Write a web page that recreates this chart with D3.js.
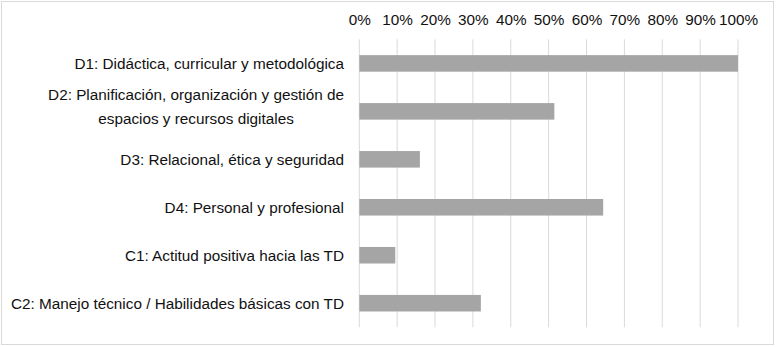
<!DOCTYPE html>
<html><head><meta charset="utf-8">
<script src="https://cdn.jsdelivr.net/npm/d3@7"></script>
<style>body{margin:0;background:#fff}svg{display:block}</style>
</head><body>
<svg id="c" width="778" height="347"></svg>
<script>
const categories = [
  ["D1: Didáctica, curricular y metodológica"],
  ["D2: Planificación, organización y gestión de", "espacios y recursos digitales"],
  ["D3: Relacional, ética y seguridad"],
  ["D4: Personal y profesional"],
  ["C1: Actitud positiva hacia las TD"],
  ["C2: Manejo técnico / Habilidades básicas con TD"]
];
const values = [100, 51.5, 16, 64.4, 9.5, 32.1];
const tickValues = [0,10,20,30,40,50,60,70,80,90,100];

(function(){
const svg = d3.select("#c");
const FONT = "'Liberation Sans', Arial, sans-serif";
const FS = 15.3;
svg.append("rect").attr("x",1.5).attr("y",1.5).attr("width",772).attr("height",343)
  .attr("fill","#fff").attr("stroke","#d9d9d9").attr("stroke-width",1);

const pLeft = 359.3, pRight = 738, pTop = 39.3, pBottom = 327.3;
const x = d3.scaleLinear().domain([0,100]).range([pLeft,pRight]);
const y = d3.scaleBand().domain(d3.range(categories.length)).range([pTop,pBottom]).paddingInner(0.655).paddingOuter(0.33);

svg.append("g").selectAll("line").data(tickValues).join("line")
  .attr("x1",d=>x(d)).attr("x2",d=>x(d)).attr("y1",pTop).attr("y2",pBottom)
  .attr("stroke","#d9d9d9").attr("stroke-width",1);

const ax = svg.append("g").attr("transform",`translate(0,20)`)
  .call(d3.axisTop(x).tickValues(tickValues).tickFormat(d=>d+"%").tickSize(0).tickPadding(0));
ax.select(".domain").remove();
ax.selectAll("text").attr("font-family",FONT).attr("font-size",FS).attr("fill","#111")
  .attr("dy","0.35em").attr("y",0);

svg.append("g").selectAll("rect").data(values).join("rect")
  .attr("x",x(0)).attr("y",(d,i)=>y(i)).attr("width",d=>x(d)-x(0)).attr("height",y.bandwidth())
  .attr("fill","#a5a5a5");

const lg = svg.append("g");
categories.forEach((lines,i)=>{
  const cy = y(i)+y.bandwidth()/2;
  const t = lg.append("text").attr("font-family",FONT).attr("font-size",FS).attr("fill","#111");
  if(lines.length===1){
    t.attr("x",344).attr("y",cy).attr("dy","0.35em").attr("text-anchor","end").text(lines[0]);
  } else {
    const tmp = lg.append("text").attr("font-family",FONT).attr("font-size",FS).text(lines[0]);
    const w = tmp.node().getComputedTextLength(); tmp.remove();
    const cx = 344 - w/2;
    lines.forEach((s,k)=>{
      t.append("tspan").attr("x",cx).attr("y",cy - 5 + (k-(lines.length-1)/2)*24).attr("dy","0.35em").attr("text-anchor","middle").text(s);
    });
  }
});
})();
</script>
</body></html>
